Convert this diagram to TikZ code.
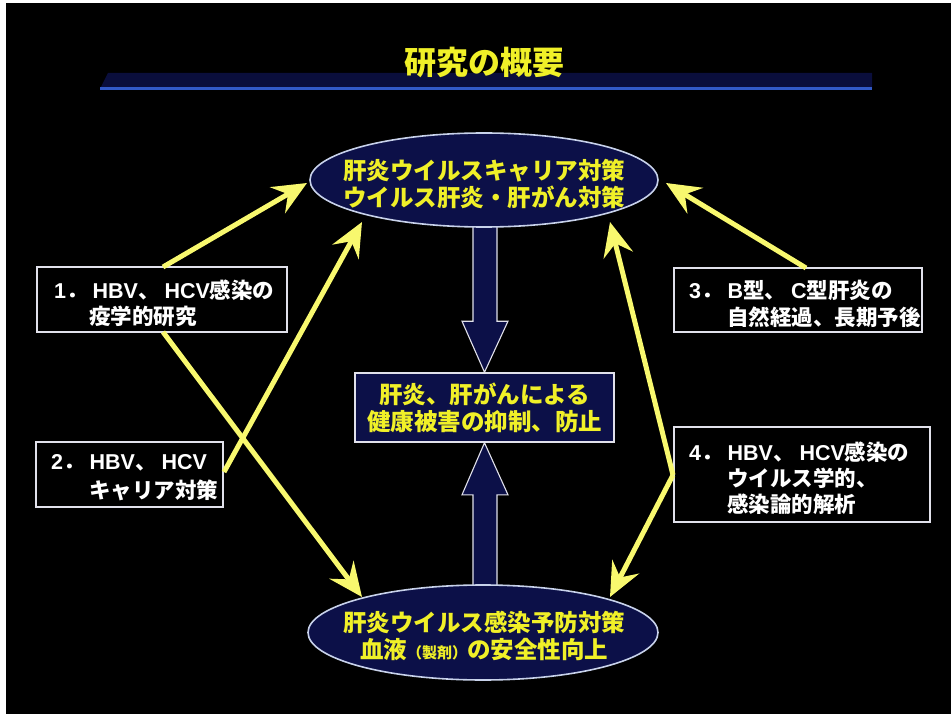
\documentclass[tikz,border=0pt]{standalone}
\usepackage{fontspec}
\setmainfont{Noto Sans CJK JP}
\newfontfamily\latfont{Liberation Sans}
\newcommand\latx[1]{{\latfont #1}}
\newcommand\gp{\hspace{5pt}}
\usetikzlibrary{arrows.meta,shapes.geometric,calc}
\definecolor{navy}{RGB}{12,16,72}
\definecolor{bandnavy}{RGB}{10,14,60}
\definecolor{bandline}{RGB}{50,90,200}
\definecolor{ylw}{RGB}{240,240,40}
\definecolor{arrowylw}{RGB}{248,248,110}
\definecolor{edge}{RGB}{200,210,235}
\definecolor{wline}{RGB}{225,225,235}
\tikzset{
  ovalshape/.style={draw=edge, line width=1.6pt, fill=navy},
  ytext/.style={text=ylw, font=\bfseries\fontsize{23.5}{27}\selectfont, align=center, inner sep=0pt},
  wtext/.style={text=white, font=\bfseries\fontsize{21.5}{26}\selectfont, inner sep=0pt, anchor=west},
  wbox/.style={draw=wline, line width=1.8pt, fill=black, inner sep=0pt},
  midbox/.style={draw=wline, line width=1.6pt, fill=navy, inner sep=0pt},
  yarrow/.style={draw=arrowylw, line width=5pt, -{Stealth[length=34pt,width=30pt,inset=12pt]}},
  blockarrow/.style={draw=wline, line width=1.1pt, fill=navy, line join=miter}
}
\begin{document}
\begin{tikzpicture}[x=1pt,y=-1pt]
\useasboundingbox (0,0) rectangle (951,714);
\fill[white] (0,0) rectangle (951,714);
\fill[black] (6,3) rectangle (951,714);
% title band
\fill[bandnavy] (108,73) -- (872,73) -- (872,89) -- (100,89) -- cycle;
\draw[bandline, line width=2.5pt] (100,88.5) -- (872,88.5);
\node[text=ylw, font=\bfseries\fontsize{32}{32}\selectfont, inner sep=0pt] (title) at (484,62) {研究の概要};
% center box
\node[midbox, minimum width=259pt, minimum height=69pt] (mid) at (484.5,407.5) {};
\node[ytext] (midtxt) at (mid.center) {肝炎、肝がんによる\\健康被害の抑制、防止};
% block arrows (under the ellipses)
\draw[blockarrow] ($(mid.north)+(-11.5,-150)$) -- ($(mid.north)+(12.5,-150)$) -- ($(mid.north)+(12.5,-51)$) -- ($(mid.north)+(23.5,-51)$) -- (mid.north) -- ($(mid.north)+(-22.5,-51)$) -- ($(mid.north)+(-11.5,-51)$) -- cycle;
\draw[blockarrow] ($(mid.south)+(-11.5,150)$) -- ($(mid.south)+(12.5,150)$) -- ($(mid.south)+(12.5,52)$) -- ($(mid.south)+(23.5,52)$) -- (mid.south) -- ($(mid.south)+(-22.5,52)$) -- ($(mid.south)+(-11.5,52)$) -- cycle;
% ellipses
\node[ovalshape, ellipse, minimum width=348pt, minimum height=94pt, inner sep=0pt] (top) at (484,180) {};
\node[ytext] (toptxt) at (484,183.5) {肝炎ウイルスキャリア対策\\ウイルス肝炎・肝がん対策};
\node[ovalshape, ellipse, minimum width=350pt, minimum height=95pt, inner sep=0pt] (bot) at (483,632.5) {};
\node[ytext] (bottxt) at (484,636) {肝炎ウイルス感染予防対策\\血液{\fontsize{15}{15}\selectfont（製剤）}の安全性向上};
% left boxes
\node[wbox, minimum width=250pt, minimum height=65pt] (b1) at (162,299.5) {};
\node[wtext] (b1a) at (54,290) {\latx{1}．\gp\latx{HBV}、\gp\latx{HCV}感染の};
\node[wtext] (b1b) at (89,316) {疫学的研究};
\node[wbox, minimum width=187pt, minimum height=65pt] (b2) at (129.5,474.5) {};
\node[wtext] (b2a) at (51,463) {\latx{2}．\gp\latx{HBV}、\gp\latx{HCV}};
\node[wtext] (b2b) at (89,490) {キャリア対策};
% right boxes
\node[wbox, minimum width=248pt, minimum height=64pt] (b3) at (798,300) {};
\node[wtext] (b3a) at (689,290) {\latx{3}．\gp\latx{B}型、\gp\latx{C}型肝炎の};
\node[wtext] (b3b) at (727,317) {自然経過、長期予後};
\node[wbox, minimum width=256pt, minimum height=95pt] (b4) at (802,474.5) {};
\node[wtext] (b4a) at (689,452) {\latx{4}．\gp\latx{HBV}、\gp\latx{HCV}感染の};
\node[wtext] (b4b) at (727,478) {ウイルス学的、};
\node[wtext] (b4c) at (727,504) {感染論的解析};
% yellow arrow endpoints
\coordinate (s1) at (163,267);
\coordinate (t1) at (307,183);
\coordinate (s2) at (163,332);
\coordinate (t2) at (362,597);
\coordinate (s3) at (224,472);
\coordinate (t3) at (362,222);
\coordinate (s4) at (806,268);
\coordinate (t4) at (666,183);
\coordinate (s5) at (673,475);
\coordinate (t5) at (610,222);
\coordinate (t6) at (610,597);
\draw[yarrow] (s1) -- (t1);
\draw[yarrow] (s2) -- (t2);
\draw[yarrow] (s3) -- (t3);
\draw[yarrow] (s4) -- (t4);
\draw[yarrow] (s5) -- (t5);
\draw[yarrow] (s5) -- (t6);
\end{tikzpicture}
\end{document}
